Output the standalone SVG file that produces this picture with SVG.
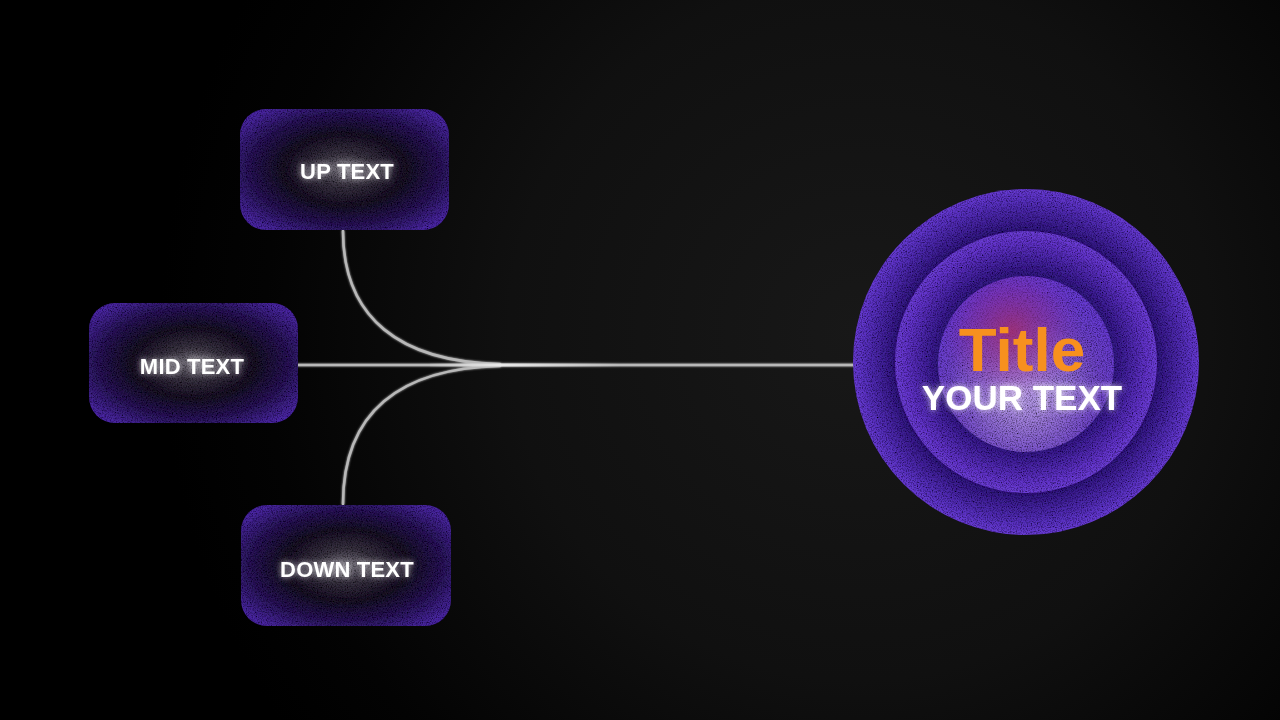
<svg xmlns="http://www.w3.org/2000/svg" width="1280" height="720" viewBox="0 0 1280 720">
<defs>
  <radialGradient id="bg" cx="860" cy="330" r="700" gradientUnits="userSpaceOnUse">
    <stop offset="0" stop-color="#181818"/>
    <stop offset="0.5" stop-color="#101010"/>
    <stop offset="0.85" stop-color="#030303"/>
    <stop offset="1" stop-color="#000000"/>
  </radialGradient>
  <radialGradient id="boxg" cx="0.5" cy="0.5" r="0.62">
    <stop offset="0" stop-color="#77727e"/>
    <stop offset="0.22" stop-color="#3a3442"/>
    <stop offset="0.48" stop-color="#1a1226"/>
    <stop offset="0.74" stop-color="#2a1858"/>
    <stop offset="1" stop-color="#4a28a2"/>
  </radialGradient>
  <radialGradient id="ring1" cx="1026" cy="362" r="173" gradientUnits="userSpaceOnUse">
    <stop offset="0.72" stop-color="#26126a"/>
    <stop offset="0.8" stop-color="#3a1e8e"/>
    <stop offset="0.94" stop-color="#5a32c2"/>
    <stop offset="1" stop-color="#683cd4"/>
  </radialGradient>
  <radialGradient id="ring2" cx="1026" cy="362" r="131" gradientUnits="userSpaceOnUse">
    <stop offset="0.62" stop-color="#2c1674"/>
    <stop offset="0.74" stop-color="#3e2096"/>
    <stop offset="0.92" stop-color="#6234ca"/>
    <stop offset="1" stop-color="#6c3ed6"/>
  </radialGradient>
  <radialGradient id="core" cx="1024" cy="390" r="100" gradientUnits="userSpaceOnUse">
    <stop offset="0" stop-color="#c0a8ee"/>
    <stop offset="0.35" stop-color="#9a78d8"/>
    <stop offset="0.75" stop-color="#6e44c8"/>
    <stop offset="1" stop-color="#663ad0"/>
  </radialGradient>
  <radialGradient id="warm" cx="1012" cy="332" r="72" gradientUnits="userSpaceOnUse">
    <stop offset="0" stop-color="#a02a6a" stop-opacity="0.85"/>
    <stop offset="0.6" stop-color="#8a2a98" stop-opacity="0.4"/>
    <stop offset="1" stop-color="#7a30c0" stop-opacity="0"/>
  </radialGradient>
  <linearGradient id="junction" x1="420" y1="0" x2="620" y2="0" gradientUnits="userSpaceOnUse">
    <stop offset="0" stop-color="#ffffff" stop-opacity="0"/>
    <stop offset="0.4" stop-color="#ffffff" stop-opacity="0.7"/>
    <stop offset="1" stop-color="#ffffff" stop-opacity="0"/>
  </linearGradient>
  <filter id="noise" x="-5%" y="-5%" width="110%" height="110%">
    <feTurbulence type="fractalNoise" baseFrequency="0.8" numOctaves="2" seed="3" result="n"/>
    <feColorMatrix in="n" type="matrix" values="0 0 0 0 0  0 0 0 0 0  0 0 0 0 0  0 0 0 -2 1.2" result="a"/>
    <feComposite in="a" in2="SourceGraphic" operator="in" result="dots"/>
    <feMerge><feMergeNode in="SourceGraphic"/><feMergeNode in="dots"/></feMerge>
  </filter>
  <filter id="glow" x="-30%" y="-60%" width="160%" height="220%">
    <feGaussianBlur in="SourceAlpha" stdDeviation="3" result="b"/>
    <feFlood flood-color="#ffffff" flood-opacity="0.75"/>
    <feComposite in2="b" operator="in" result="g"/>
    <feMerge><feMergeNode in="g"/><feMergeNode in="SourceGraphic"/></feMerge>
  </filter>
  <filter id="lineglow" x="-5%" y="-50%" width="110%" height="200%">
    <feGaussianBlur stdDeviation="1.2" result="b"/>
    <feMerge><feMergeNode in="b"/><feMergeNode in="SourceGraphic"/></feMerge>
  </filter>
</defs>
<style>
  .box { fill: url(#boxg); }
  .lbl { font-family: "Liberation Sans", "DejaVu Sans", sans-serif; font-weight: bold; font-size: 22px; fill: #ffffff; text-anchor: middle; letter-spacing: 0.2px; }
  .conn { fill: none; stroke: #b8b8b8; stroke-width: 2.6; stroke-linecap: round; }
</style>

<rect x="0" y="0" width="1280" height="720" fill="url(#bg)"/>

<g id="connectors" filter="url(#lineglow)">
  <path class="conn" d="M343 231 C343 318 400 362 500 364"/>
  <path class="conn" d="M343 504 C343 412 400 368 500 366"/>
  <path class="conn" d="M298 365 L854 365"/>
  <path d="M430 365 L620 365" stroke="url(#junction)" stroke-width="3" fill="none"/>
</g>

<g id="node-up">
  <rect x="240" y="109" width="209" height="121" rx="26" class="box" filter="url(#noise)"/>
  <text x="347" y="179" class="lbl" filter="url(#glow)">UP TEXT</text>
</g>

<g id="node-mid">
  <rect x="89" y="303" width="209" height="120" rx="26" class="box" filter="url(#noise)"/>
  <text x="192" y="374" class="lbl" filter="url(#glow)">MID TEXT</text>
</g>

<g id="node-down">
  <rect x="241" y="505" width="210" height="121" rx="26" class="box" filter="url(#noise)"/>
  <text x="347" y="577" class="lbl" filter="url(#glow)">DOWN TEXT</text>
</g>

<g id="node-title">
  <circle cx="1026" cy="362" r="173" fill="url(#ring1)" filter="url(#noise)"/>
  <circle cx="1026" cy="362" r="131" fill="url(#ring2)" filter="url(#noise)"/>
  <circle cx="1026" cy="364" r="88" fill="url(#core)" filter="url(#noise)"/>
  <circle cx="1026" cy="364" r="88" fill="url(#warm)"/>
  <text x="1022" y="371" font-family="Liberation Sans, DejaVu Sans, sans-serif" font-weight="bold" font-size="62" fill="#f7901e" text-anchor="middle">Title</text>
  <text x="1022" y="410" font-family="Liberation Sans, DejaVu Sans, sans-serif" font-weight="bold" font-size="35" fill="#ffffff" text-anchor="middle" filter="url(#glow)">YOUR TEXT</text>
</g>
</svg>
